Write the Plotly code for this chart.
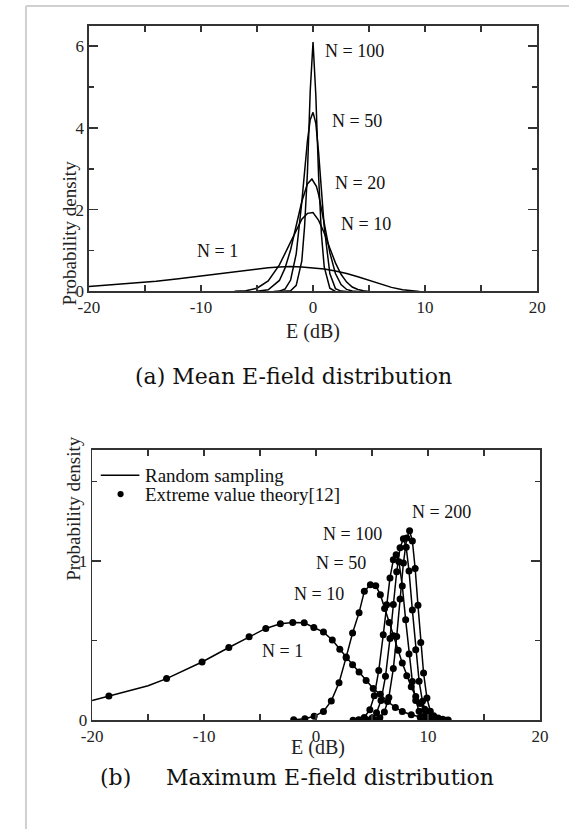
import plotly.graph_objects as go

W, H = 578, 839

# ---------------- (a) Mean E-field distribution ----------------
a_n1_x = [-20, -18, -16, -14, -12, -10, -8, -6, -5, -4, -3, -2, -1, 0, 1, 2, 3, 4, 5, 6, 7, 8, 9, 9.5]
a_n1_y = [0.12, 0.16, 0.2, 0.25, 0.31, 0.38, 0.45, 0.52, 0.55, 0.58, 0.6, 0.61, 0.6, 0.58, 0.55, 0.5, 0.44, 0.36, 0.27, 0.18, 0.1, 0.04, 0.01, 0.0]

a_n10_x = [-7, -6, -5, -4, -3, -2.5, -2, -1.5, -1, -0.5, -0.2, 0, 0.5, 1, 1.5, 2, 2.5, 3, 3.5, 4, 4.5, 5]
a_n10_y = [0.003, 0.02, 0.08, 0.26, 0.65, 0.93, 1.23, 1.53, 1.77, 1.91, 1.93, 1.93, 1.74, 1.43, 1.06, 0.70, 0.42, 0.23, 0.11, 0.05, 0.02, 0.0]

a_n20_x = [-5, -4, -3, -2.5, -2, -1.5, -1, -0.5, -0.1, 0.3, 0.5, 1, 1.5, 2, 2.5, 3, 3.5, 4]
a_n20_y = [0.004, 0.04, 0.27, 0.57, 1.02, 1.61, 2.20, 2.63, 2.75, 2.57, 2.37, 1.67, 0.95, 0.44, 0.17, 0.05, 0.01, 0.0]

a_n50_x = [-3.5, -3, -2.5, -2, -1.5, -1, -0.5, -0.25, 0, 0.25, 0.5, 1, 1.5, 2, 2.5, 3]
a_n50_y = [0.001, 0.009, 0.06, 0.28, 0.92, 2.19, 3.68, 4.20, 4.38, 4.11, 3.39, 1.58, 0.44, 0.07, 0.01, 0.0]

a_n100_x = [-3, -2, -1.5, -1, -0.75, -0.5, -0.25, 0, 0.25, 0.5, 0.75, 1, 1.5, 2]
a_n100_y = [0.0, 0.02, 0.15, 0.75, 1.6, 2.9, 4.9, 6.1, 4.8, 2.8, 1.4, 0.6, 0.08, 0.0]

a_labels = ["N = 100", "N = 50", "N = 20", "N = 10", "N = 1"]
a_label_x = [3.7, 3.9, 4.2, 4.7, -8.5]
a_label_y = [5.88, 4.16, 2.66, 1.65, 1.0]

# ---------------- (b) Maximum E-field distribution ----------------
b_n1_x = [-20, -18.5, -15, -13.35, -10.18, -7.79, -5.98, -4.49, -3.19, -2.08, -1.06, -0.2, 0.66, 1.45, 2.12,
          2.69, 3.26, 3.84, 4.47, 5.1, 5.74, 6.38, 7.08, 7.7, 8.5, 9.3, 10, 10.7, 11.5]
b_n1_y = [0.124, 0.153, 0.217, 0.262, 0.366, 0.457, 0.525, 0.577, 0.606, 0.614, 0.612, 0.583, 0.554, 0.504, 0.446,
          0.393, 0.349, 0.304, 0.25, 0.2, 0.163, 0.118, 0.081, 0.055, 0.035, 0.02, 0.01, 0.004, 0.0]
b_n1_mx = [-18.5, -13.35, -10.18, -7.79, -5.98, -4.49, -3.19, -2.08, -1.06, -0.2, 0.66, 1.45, 2.12,
           2.69, 3.26, 3.84, 4.47, 5.1, 5.74, 6.38, 7.08, 7.7, 8.5, 9.3, 10, 10.7]
b_n1_my = [0.153, 0.262, 0.366, 0.457, 0.525, 0.577, 0.606, 0.614, 0.612, 0.583, 0.554, 0.504, 0.446,
           0.393, 0.349, 0.304, 0.25, 0.2, 0.163, 0.118, 0.081, 0.055, 0.035, 0.02, 0.01, 0.004]

b_n10_x = [-2.0, -1.0, -0.17, 0.66, 1.36, 2.05, 2.69, 3.26, 3.84, 4.31, 4.85, 5.33, 5.74, 6.12, 6.53, 6.91,
           7.33, 7.7, 8.1, 8.5, 8.9, 9.3, 9.7, 10.1, 10.5, 10.9, 11.3, 11.8]
b_n10_y = [0.003, 0.01, 0.025, 0.056, 0.122, 0.236, 0.397, 0.548, 0.676, 0.81, 0.851, 0.845, 0.789, 0.702, 0.614, 0.531,
           0.44, 0.36, 0.28, 0.21, 0.15, 0.105, 0.07, 0.045, 0.028, 0.015, 0.007, 0.002]

b_n50_x = [3.3, 3.8, 4.3, 4.8, 5.2, 5.6, 6.0, 6.3, 6.6, 6.9, 7.15, 7.4, 7.7, 8.0, 8.3, 8.6, 8.9, 9.2, 9.5, 9.9, 10.3, 10.7]
b_n50_y = [0.001, 0.004, 0.018, 0.066, 0.155, 0.313, 0.537, 0.725, 0.894, 1.008, 1.04, 0.996, 0.844, 0.631, 0.417,
           0.243, 0.125, 0.057, 0.023, 0.01, 0.004, 0.001]

b_n100_x = [4.0, 4.5, 5.0, 5.4, 5.8, 6.2, 6.6, 6.9, 7.2, 7.5, 7.8, 8.05, 8.3, 8.6, 8.9, 9.2, 9.5, 9.8, 10.1, 10.5, 10.9, 11.3]
b_n100_y = [0.001, 0.003, 0.015, 0.047, 0.124, 0.276, 0.513, 0.728, 0.933, 1.084, 1.14, 1.086, 0.938, 0.692, 0.443,
            0.246, 0.119, 0.05, 0.018, 0.006, 0.002, 0.0]

b_n200_x = [4.8, 5.3, 5.7, 6.1, 6.5, 6.9, 7.2, 7.5, 7.8, 8.1, 8.35, 8.6, 8.85, 9.1, 9.35, 9.6, 9.9, 10.2, 10.5, 10.8, 11.2, 11.6]
b_n200_y = [0.001, 0.004, 0.016, 0.052, 0.144, 0.325, 0.526, 0.762, 0.988, 1.145, 1.19, 1.126, 0.953, 0.722, 0.489,
            0.297, 0.14, 0.057, 0.02, 0.006, 0.002, 0.0]

b_labels = ["N = 200", "N = 100", "N = 50", "N = 10", "N = 1"]
b_label_x = [11.2, 3.27, 2.24, 0.24, -3.03]
b_label_y = [1.306, 1.172, 0.99, 0.794, 0.438]

x_ticks = [-20, -10, 0, 10, 20]

FONT = "Liberation Serif"
AX = "#333333"


def px(x):
    return x / W


def py(y):
    return 1 - y / H


fig = go.Figure()

for xs, ys in [(a_n1_x, a_n1_y), (a_n10_x, a_n10_y), (a_n20_x, a_n20_y), (a_n50_x, a_n50_y), (a_n100_x, a_n100_y)]:
    fig.add_trace(go.Scatter(x=xs, y=ys, mode="lines", line=dict(color="black", width=1.5),
                             showlegend=False, xaxis="x", yaxis="y", hoverinfo="skip"))

b_curves = [(b_n1_x, b_n1_y, b_n1_mx, b_n1_my), (b_n10_x, b_n10_y, b_n10_x, b_n10_y),
            (b_n50_x, b_n50_y, b_n50_x, b_n50_y), (b_n100_x, b_n100_y, b_n100_x, b_n100_y),
            (b_n200_x, b_n200_y, b_n200_x, b_n200_y)]
for xs, ys, mx, my in b_curves:
    fig.add_trace(go.Scatter(x=xs, y=ys, mode="lines", line=dict(color="black", width=1.5),
                             showlegend=False, xaxis="x2", yaxis="y2", hoverinfo="skip"))
    fig.add_trace(go.Scatter(x=mx, y=my, mode="markers", marker=dict(color="black", size=7),
                             showlegend=False, xaxis="x2", yaxis="y2", hoverinfo="skip"))

xcommon = dict(range=[-20, 20], tickvals=x_ticks, ticktext=[str(v) for v in x_ticks],
               ticks="inside", ticklen=6, tickwidth=1.5, tickcolor=AX,
               minor=dict(dtick=5, tick0=0, ticks="inside", ticklen=6, tickwidth=1.5, tickcolor=AX),
               showline=True, linecolor=AX, linewidth=1.5, mirror="ticks", showgrid=False, zeroline=False,
               tickfont=dict(family=FONT, size=17, color="#222"), fixedrange=True)

fig.update_layout(
    width=W, height=H, margin=dict(l=0, r=0, t=0, b=0),
    paper_bgcolor="white", plot_bgcolor="white",
    xaxis=dict(domain=[px(80.7), px(545)], anchor="y", **xcommon),
    yaxis=dict(domain=[py(295), py(26)], anchor="x", range=[0, 6.5], dtick=2, tick0=0,
               ticks="inside", ticklen=9, tickwidth=1.5, tickcolor=AX,
               minor=dict(dtick=1, tick0=0, ticks="inside", ticklen=5, tickwidth=1.5, tickcolor=AX),
               showline=True, linecolor=AX, linewidth=1.5, mirror="ticks", showgrid=False, zeroline=False,
               tickfont=dict(family=FONT, size=17, color="#222"), fixedrange=True),
    xaxis2=dict(domain=[px(84), px(548)], anchor="y2", **xcommon),
    yaxis2=dict(domain=[py(729), py(455)], anchor="x2", range=[0, 1.7], dtick=1, tick0=0,
                ticks="inside", ticklen=9, tickwidth=1.5, tickcolor=AX,
                minor=dict(dtick=0.5, tick0=0, ticks="inside", ticklen=5, tickwidth=1.5, tickcolor=AX),
                showline=True, linecolor=AX, linewidth=1.5, mirror="ticks", showgrid=False, zeroline=False,
                tickfont=dict(family=FONT, size=17, color="#222"), fixedrange=True),
    showlegend=False,
)

ann = []
for t, x, y in zip(a_labels, a_label_x, a_label_y):
    ann.append(dict(text=t, x=x, y=y, xref="x", yref="y", showarrow=False,
                    font=dict(family=FONT, size=18, color="#111")))
for t, x, y in zip(b_labels, b_label_x, b_label_y):
    ann.append(dict(text=t, x=x, y=y, xref="x2", yref="y2", showarrow=False,
                    font=dict(family=FONT, size=18, color="#111")))

# axis titles
for cx, cy in [(48, 160), (51.6, 590)]:
    ann.append(dict(text="Probability density", x=px(cx), y=py(cy), xref="paper", yref="paper",
                    textangle=-90, showarrow=False, font=dict(family=FONT, size=19, color="#222")))
for cx, cy in [(313, 336), (318, 770)]:
    ann.append(dict(text="E (dB)", x=px(cx), y=py(cy), xref="paper", yref="paper",
                    showarrow=False, font=dict(family=FONT, size=20, color="#222")))

# captions
CAP = "DejaVu Serif"
ann.append(dict(text="(a) Mean E-field distribution", x=px(293), y=py(381), xref="paper", yref="paper",
                showarrow=False, font=dict(family=CAP, size=22, color="#111")))
ann.append(dict(text="(b)", x=px(90), y=py(802), xref="paper", yref="paper", xanchor="left",
                showarrow=False, font=dict(family=CAP, size=22, color="#111")))
ann.append(dict(text="Maximum E-field distribution", x=px(158), y=py(802), xref="paper", yref="paper",
                xanchor="left", showarrow=False, font=dict(family=CAP, size=22, color="#111")))

# legend (drawn manually)
ann.append(dict(text="Random sampling", x=px(137), y=py(481), xref="paper", yref="paper", xanchor="left",
                showarrow=False, font=dict(family=FONT, size=19, color="#111")))
ann.append(dict(text="Extreme value theory[12]", x=px(137), y=py(500), xref="paper", yref="paper",
                xanchor="left", showarrow=False, font=dict(family=FONT, size=19, color="#111")))
fig.update_layout(annotations=ann)

shapes = [
    dict(type="line", xref="paper", yref="paper", x0=px(93), x1=px(133), y0=py(481), y1=py(481),
         line=dict(color="black", width=1.5)),
    dict(type="circle", xref="paper", yref="paper", x0=px(110.3), x1=px(116.7), y0=py(503.2), y1=py(496.8),
         fillcolor="black", line=dict(color="black", width=0)),
    # page frame
    dict(type="line", xref="paper", yref="paper", x0=px(15.5), x1=px(15.5), y0=0, y1=py(6),
         line=dict(color="#d0d0d0", width=2)),
    dict(type="line", xref="paper", yref="paper", x0=px(15.5), x1=1, y0=py(6), y1=py(6),
         line=dict(color="#d0d0d0", width=2)),
]
fig.update_layout(shapes=shapes)

post = (
    "document.documentElement.style.margin='0';document.documentElement.style.overflow='hidden';"
    "document.body.style.margin='0';document.body.style.overflow='hidden';"
)
fig.write_html("out.html", config={"displayModeBar": False, "staticPlot": True}, post_script=post)
